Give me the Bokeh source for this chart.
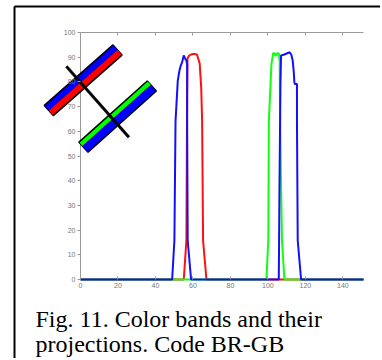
import numpy as np
from bokeh.plotting import figure
from bokeh.models import LinearAxis, FixedTicker, Range1d
from bokeh.core.properties import value
from bokeh.embed import file_html
from bokeh.resources import INLINE

# ---- data ----
blue_x = [0, 48.9, 50.1, 50.7, 51.9, 52.8, 53.5, 54.2, 55.1, 55.8, 56.5, 56.9, 56.9, 57.2, 59.0,
          105.8, 106.2, 106.7, 107.0, 108.4, 110.0, 111.6, 112.5, 113.2, 113.8, 114.1, 114.3,
          115.5, 115.5, 115.9, 117.7, 151]
blue_y = [0, 0, 15.8, 64, 80.5, 84.6, 86.6, 87.9, 90.7, 89.5, 88.7, 87, 64, 15.8, 0,
          0, 40, 80, 90.7, 91, 91.5, 92, 91, 88.7, 84, 80, 79.2,
          79.2, 64, 15.8, 0, 0]
red_x = [0, 55.1, 56.5, 56.9, 57.1, 57.8, 58.7, 60.0, 61.0, 62.2, 63.6, 64.4, 64.9, 65.4, 67.2, 151]
red_y = [0, 0, 15.8, 73, 89.5, 90.5, 91, 91.3, 91.3, 91, 87.4, 77.7, 64, 15.8, 0, 0]
green_x = [0, 99.2, 100.2, 100.5, 101.9, 102.8, 103.5, 104.2, 105.0, 105.8, 106.3, 106.5, 107.5, 108.8, 151]
green_y = [0, 0, 15.8, 64, 87.4, 91.6, 91.6, 90.5, 91.6, 91.6, 88, 64, 15.8, 0, 0]

x_ticks = [0, 20, 40, 60, 80, 100, 120, 140]
y_ticks = [0, 10, 20, 30, 40, 50, 60, 70, 80, 90, 100]
x_lim = [0, 151]
y_lim = [0, 100]

caption = ["Fig. 11. Color bands and their", "projections. Code BR-GB"]

# ---- layout (pixels) ----
W, H = 380, 358
AX_L, AX_R, AX_T, AX_B = 80, 363, 32, 279   # axes box in canvas pixels
sx = (AX_R - AX_L) / (x_lim[1] - x_lim[0])
sy = (AX_B - AX_T) / (y_lim[1] - y_lim[0])

p = figure(width=W, height=H, output_backend="svg", toolbar_location=None,
           x_range=Range1d(x_lim[0] - AX_L / sx, x_lim[1] + (W - AX_R) / sx),
           y_range=Range1d(y_lim[0] - (H - AX_B) / sy, y_lim[1] + AX_T / sy),
           min_border=0)
p.extra_x_ranges = {"px": Range1d(0, W)}
p.extra_y_ranges = {"px": Range1d(H, 0)}
p.xgrid.visible = False
p.ygrid.visible = False
p.outline_line_color = None
p.background_fill_color = "white"
p.border_fill_color = "white"

GREY = "#9a9a9a"
for ax in (p.xaxis[0], p.yaxis[0]):
    ax.axis_line_color = None
    ax.major_tick_line_color = GREY
    ax.minor_tick_line_color = None
    ax.major_label_text_font = "Liberation Sans"
    ax.major_label_text_font_size = "7px"
    ax.major_label_text_color = "#777777"
p.xaxis.fixed_location = 0
p.yaxis.fixed_location = 0
p.xaxis.ticker = FixedTicker(ticks=x_ticks)
p.yaxis.ticker = FixedTicker(ticks=y_ticks)
p.xaxis.major_tick_in = 3
p.xaxis.major_tick_out = 0
p.xaxis.major_label_standoff = 3
p.yaxis.major_tick_in = 0
p.yaxis.major_tick_out = 3
p.yaxis.major_label_standoff = 2

top = LinearAxis(ticker=FixedTicker(ticks=x_ticks), fixed_location=y_lim[1], axis_line_color=None,
                 major_tick_line_color=GREY, minor_tick_line_color=None,
                 major_tick_in=3, major_tick_out=0, major_label_text_color=None,
                 major_label_text_font_size="1px")
p.add_layout(top, "above")

# axis spines (left, top, bottom)
p.segment(x0=[x_lim[0], x_lim[0], x_lim[0]], y0=[y_lim[0], y_lim[1], y_lim[0]],
          x1=[x_lim[0], x_lim[1], x_lim[1]], y1=[y_lim[1], y_lim[1], y_lim[0]],
          line_color=GREY, line_width=1)

p.line(red_x, red_y, line_color="#ff1010", line_width=2)
p.line(green_x, green_y, line_color="#10ff10", line_width=2)
p.line(blue_x, blue_y, line_color="#1010ff", line_width=2)

# ---- figure box border (pixels) ----
p.segment(x0=[14, 14], y0=[6, 6], x1=[14, 400], y1=[400, 6], line_color="black", line_width=2,
          x_range_name="px", y_range_name="px")

# ---- inset picture of the two colour bands (pixels) ----
def band(p0, p1, a, b):
    p0 = np.array(p0, float); p1 = np.array(p1, float)
    d = (p1 - p0) / np.linalg.norm(p1 - p0)
    n = np.array([d[1], -d[0]])
    if n[1] > 0:
        n = -n
    pts = [p0 + a * n, p1 + a * n, p1 + b * n, p0 + b * n]
    return [float(q[0]) for q in pts], [float(q[1]) for q in pts]

b1 = ((48.3, 110.0), (117.0, 49.5))
b2 = ((83.0, 146.7), (151.3, 85.5))
for (bb, c_up, c_dn, split) in ((b1, "#0000ff", "#ff0000", 0.0), (b2, "#00ff00", "#0000ff", 1.5)):
    xs, ys = band(*bb, -6.8, 6.8)
    p.patch(xs, ys, fill_color="black", line_color="black", line_width=1.5,
            x_range_name="px", y_range_name="px")
    xs, ys = band(*bb, split, 6.0)
    p.patch(xs, ys, fill_color=c_up, line_color=None, x_range_name="px", y_range_name="px")
    xs, ys = band(*bb, -6.0, split)
    p.patch(xs, ys, fill_color=c_dn, line_color=None, x_range_name="px", y_range_name="px")
xs, ys = band((66, 66), (128.3, 136.7), -1.3, 1.3)
p.patch(xs, ys, fill_color="black", line_color="black", line_width=0.5,
        x_range_name="px", y_range_name="px")

# ---- caption ----
p.text(x=[35, 35], y=[318, 343], text=caption, text_font=value("Liberation Serif"),
       text_font_size="24px", text_color="black", text_baseline="alphabetic",
       x_range_name="px", y_range_name="px")

open("out.html", "w").write(file_html(p, INLINE))
